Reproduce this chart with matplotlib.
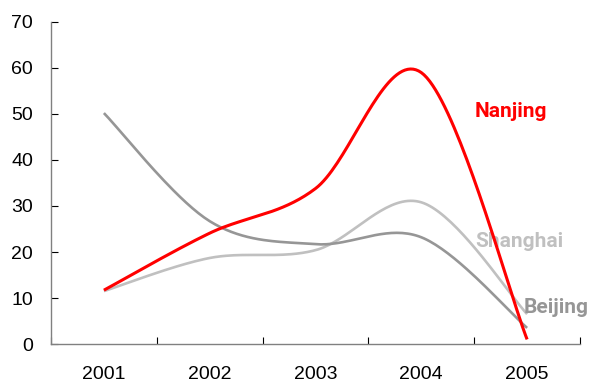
import numpy as np
import matplotlib
matplotlib.use("Agg")
import matplotlib.pyplot as plt

years = ["2001", "2002", "2003", "2004", "2005"]
nanjing = [11.7, 24.1, 33.8, 59.0, 1.0]
shanghai = [11.5, 18.7, 20.4, 30.8, 6.5]
beijing = [50.2, 26.7, 21.7, 23.2, 3.5]

RED = "#FF0000"
LIGHT = "#C0C0C0"
MID = "#969696"


def smooth(xs, ys, n=40):
    """Bezier smoothing through every point (spreadsheet-style smoothed line)."""
    p = np.column_stack([xs, ys]).astype(float)
    ext = np.vstack([p[0], p, p[-1]])
    out = []
    for i in range(len(p) - 1):
        p0, p1 = p[i], p[i + 1]
        c1 = p0 + (ext[i + 2] - ext[i]) / 6.0
        c2 = p1 - (ext[i + 3] - ext[i + 1]) / 6.0
        t = np.linspace(0, 1, n)[:, None]
        seg = ((1 - t) ** 3) * p0 + 3 * ((1 - t) ** 2) * t * c1 \
            + 3 * (1 - t) * t ** 2 * c2 + t ** 3 * p1
        out.append(seg if i == 0 else seg[1:])
    pts = np.vstack(out)
    return pts[:, 0], pts[:, 1]


fig = plt.figure(figsize=(5.91, 3.83), dpi=100)
ax = fig.add_axes([0.0863, 0.1018, 0.8951, 0.8408])

x = np.arange(1, len(years) + 1)
for vals, col, lw, z in [(shanghai, LIGHT, 1.9, 2), (beijing, MID, 1.9, 3),
                         (nanjing, RED, 2.2, 4)]:
    sx, sy = smooth(x, vals)
    ax.plot(sx, sy, color=col, lw=lw, zorder=z, solid_capstyle="butt",
            solid_joinstyle="round")

ax.set_xlim(0.5, len(years) + 0.5)
ax.set_ylim(0, 70)
ax.set_yticks(np.arange(0, 71, 10))
ax.set_xticks(np.arange(0.5, len(years) + 1, 1.0))
ax.set_xticklabels([])
ax.set_xticks(x, minor=True)
ax.set_xticklabels(years, minor=True)

for s in ["top", "right"]:
    ax.spines[s].set_visible(False)
for s in ["left", "bottom"]:
    ax.spines[s].set_color("#808080")
    ax.spines[s].set_linewidth(1.0)

ax.tick_params(axis="both", which="major", direction="in", length=5,
               width=0.8, color="black")
ax.tick_params(axis="x", which="minor", length=0, pad=16)
ax.tick_params(axis="y", which="major", pad=13)
for lbl in ax.get_xticklabels(minor=True) + ax.get_yticklabels():
    lbl.set_fontfamily("Liberation Sans")
    lbl.set_fontsize(14)

name_font = ["Roboto", "Liberation Sans"]
ax.text(4.507, 49.4, "Nanjing", color=RED, fontsize=15, fontweight="bold",
        family=name_font, va="baseline", ha="left")
ax.text(4.507, 21.15, "Shanghai", color=LIGHT, fontsize=15, fontweight="bold",
        family=name_font, va="baseline", ha="left")
ax.text(4.97, 6.8, "Beijing", color=MID, fontsize=15, fontweight="bold",
        family=name_font, va="baseline", ha="left")

fig.savefig("out.png", dpi=100)
